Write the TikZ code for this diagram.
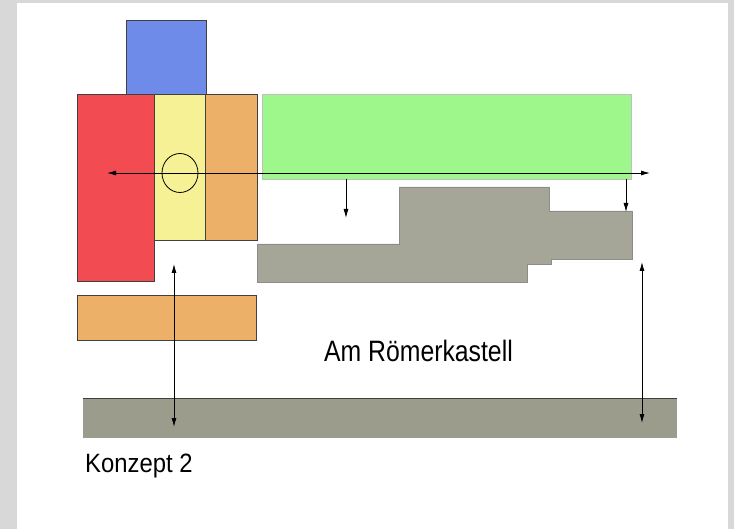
\documentclass[tikz,border=0pt]{standalone}
\usepackage{fontspec}
\setmainfont{Liberation Sans}
\usetikzlibrary{arrows.meta}
\definecolor{rahmen}{HTML}{D8D8D8}
\definecolor{blau}{HTML}{6E8BE9}
\definecolor{rot}{HTML}{F24C52}
\definecolor{gelb}{HTML}{F5F194}
\definecolor{orange}{HTML}{EDB068}
\definecolor{gruen}{HTML}{9DF78A}
\definecolor{stein}{HTML}{A5A598}
\definecolor{boden}{HTML}{9C9C8C}
\begin{document}
\begin{tikzpicture}[x=1pt,y=-1pt,
    teil/.style={draw=black!75, line width=0.8pt},
    pfeil/.style={line width=0.8pt, -{Latex[length=9pt,width=5pt]}},
    doppel/.style={line width=0.8pt, {Latex[length=9pt,width=5pt]}-{Latex[length=9pt,width=5pt]}}]
            \fill[rahmen] (0,0) rectangle (734,529);
            \fill[white] (17,3) rectangle (728,529);
            \draw[teil, fill=blau] (126,20) rectangle (206,94);
            \draw[teil, fill=rot] (77,94) rectangle (154,281);
            \draw[teil, fill=gelb] (154,94) rectangle (205,240);
            \draw[teil, fill=orange] (205,94) rectangle (257,240);
            \draw[draw=black!25, line width=0.6pt, fill=gruen] (262,94) rectangle (631,179);
            \draw[draw=black!45, line width=0.6pt, fill=stein] (257,244) -- (399,244) -- (399,187) -- (549,187) -- (549,211) -- (632,211) -- (632,259) -- (551,259) -- (551,264) -- (527,264) -- (527,282) -- (257,282) -- cycle;
            \draw[teil, fill=orange] (77,295) rectangle (256,340);
            \fill[boden] (83,398) rectangle (677,438);
            \draw[black!75, line width=0.9pt] (83,398) -- (677,398);
            \draw[line width=0.8pt] (180,173) ellipse [x radius=18, y radius=19.5];
            \coordinate (links) at (107,173);
            \coordinate (rechts) at (650,173);
            \coordinate (gruen-a) at (346,179);
            \coordinate (stein-a) at (346,218);
            \coordinate (gruen-b) at (626,179);
            \coordinate (stein-b) at (626,212);
            \coordinate (oben-l) at (174,264);
            \coordinate (unten-l) at (174,427);
            \coordinate (oben-r) at (642,262);
            \coordinate (unten-r) at (642,423);
            \draw[doppel] (links) -- (rechts);
            \draw[pfeil] (gruen-a) -- (stein-a);
            \draw[pfeil] (gruen-b) -- (stein-b);
            \draw[doppel] (oben-l) -- (unten-l);
            \draw[doppel] (oben-r) -- (unten-r);
            \node[anchor=base west, inner sep=0pt, xscale=0.84, font=\fontsize{29.5}{32}\selectfont] (strasse) at (324,362) {Am Römerkastell};
            \node[anchor=base west, inner sep=0pt, xscale=0.9, font=\fontsize{26.5}{30}\selectfont] (konzept) at (85,472) {Konzept 2};
\end{tikzpicture}
\end{document}
